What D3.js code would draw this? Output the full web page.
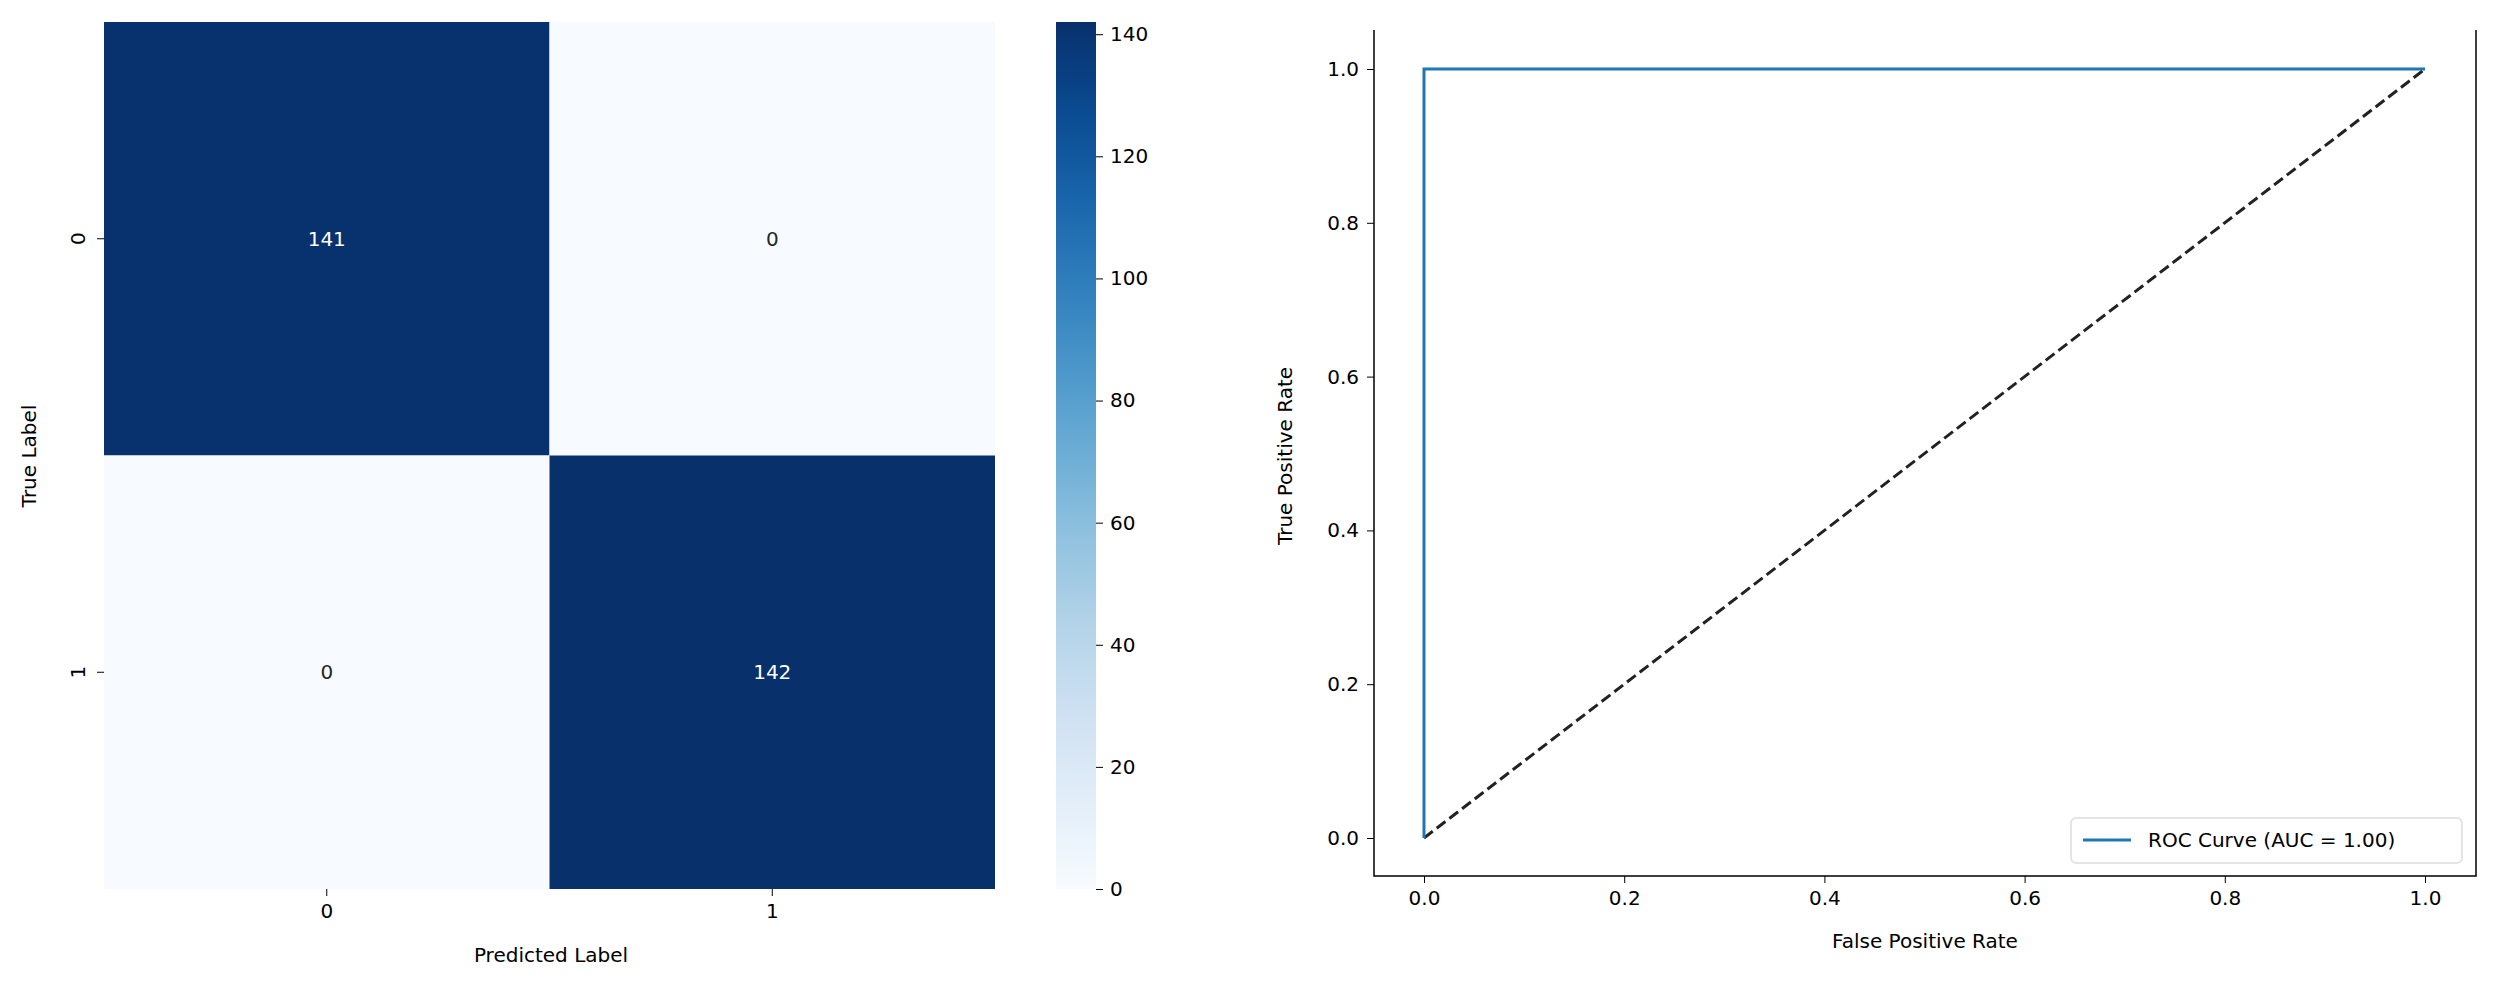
<!DOCTYPE html>
<html>
<head>
<style>
  body { margin: 0; background: #fff; }
  text { font-family: "DejaVu Sans", sans-serif; }
</style>
</head>
<body>
<div id="chart"></div>
<script src="https://cdn.jsdelivr.net/npm/d3@7"></script>
<script>
var classes = ["0", "1"];
var matrix = [[141, 0], [0, 142]];
var cbTicks = [0, 20, 40, 60, 80, 100, 120, 140];
var rocFpr = [0, 0, 1];
var rocTpr = [0, 1, 1];
var diag = [[0, 0], [1, 1]];
var rocTicks = [0, 0.2, 0.4, 0.6, 0.8, 1.0];

var W = 2503, H = 982, fs = 20;
var svg = d3.select("#chart").append("svg").attr("width", W).attr("height", H);

// ---- confusion matrix
var hx = d3.scaleBand().domain(classes).range([104, 995]);
var hy = d3.scaleBand().domain(classes).range([22, 889]);
var vmax = d3.max(matrix, function (r) { return d3.max(r); });
var color = d3.scaleSequential(d3.interpolateBlues).domain([0, vmax]);

var cells = [];
matrix.forEach(function (row, i) {
    row.forEach(function (v, j) { cells.push({r: classes[i], c: classes[j], v: v}); });
});

svg.selectAll("rect.cell").data(cells).enter().append("rect")
    .attr("class", "cell")
    .attr("x", function (d) { return hx(d.c); })
    .attr("y", function (d) { return hy(d.r); })
    .attr("width", hx.bandwidth())
    .attr("height", hy.bandwidth())
    .attr("fill", function (d) { return color(d.v); });

svg.selectAll("text.val").data(cells).enter().append("text")
    .attr("x", function (d) { return hx(d.c) + hx.bandwidth() / 2; })
    .attr("y", function (d) { return hy(d.r) + hy.bandwidth() / 2; })
    .attr("text-anchor", "middle").attr("dominant-baseline", "central")
    .attr("font-size", fs)
    .attr("fill", function (d) { return d.v > vmax / 2 ? "#fff" : "#262626"; })
    .text(function (d) { return d.v; });

var hxAxis = svg.append("g").attr("transform", "translate(0,889)")
    .call(d3.axisBottom(hx).tickSize(7).tickPadding(8));
hxAxis.select(".domain").remove();
hxAxis.selectAll("text").attr("font-size", fs);

var hyAxis = svg.append("g").attr("transform", "translate(104,0)")
    .call(d3.axisLeft(hy).tickSize(7).tickPadding(8));
hyAxis.select(".domain").remove();
hyAxis.selectAll("text").attr("font-size", fs)
    .attr("text-anchor", "middle").attr("x", -26).attr("dy", "0.35em")
    .attr("transform", "rotate(-90,-26,0)");

svg.append("text").attr("x", 551).attr("y", 962).attr("text-anchor", "middle")
    .attr("font-size", fs).text("Predicted Label");
svg.append("text").attr("transform", "translate(36,456) rotate(-90)")
    .attr("text-anchor", "middle").attr("font-size", fs).text("True Label");

// colorbar
var cb = d3.scaleLinear().domain([0, vmax]).range([889, 22]);
var defs = svg.append("defs");
var grad = defs.append("linearGradient").attr("id", "cbg")
    .attr("x1", 0).attr("y1", 1).attr("x2", 0).attr("y2", 0);
d3.range(0, 1.01, 0.1).forEach(function (t) {
    grad.append("stop").attr("offset", t).attr("stop-color", d3.interpolateBlues(t));
});
svg.append("rect").attr("x", 1056).attr("y", 22).attr("width", 40).attr("height", 867)
    .attr("fill", "url(#cbg)");
var cbAxis = svg.append("g").attr("transform", "translate(1096,0)")
    .call(d3.axisRight(cb).tickValues(cbTicks).tickSize(7).tickPadding(7));
cbAxis.select(".domain").remove();
cbAxis.selectAll("text").attr("font-size", fs);

// ---- ROC
var rx = d3.scaleLinear().domain([0, 1]).range([1424, 2425]);
var ry = d3.scaleLinear().domain([0, 1]).range([838, 69]);
var L = 1374, R = 2476, T = 30, B = 876;

var rxAxis = svg.append("g").attr("transform", "translate(0," + B + ")")
    .call(d3.axisBottom(rx).tickValues(rocTicks).tickFormat(d3.format(".1f")).tickSize(7).tickPadding(8));
rxAxis.select(".domain").remove();
rxAxis.selectAll("text").attr("font-size", fs);
var ryAxis = svg.append("g").attr("transform", "translate(" + L + ",0)")
    .call(d3.axisLeft(ry).tickValues(rocTicks).tickFormat(d3.format(".1f")).tickSize(7).tickPadding(8));
ryAxis.select(".domain").remove();
ryAxis.selectAll("text").attr("font-size", fs);

svg.append("path").attr("d", "M" + L + "," + T + "V" + B + "H" + R + "V" + T)
    .attr("fill", "none").attr("stroke", "#000").attr("stroke-width", 1.5);

var line = d3.line().x(function (d) { return rx(d[0]); }).y(function (d) { return ry(d[1]); });
svg.append("path").datum(diag).attr("d", line).attr("fill", "none")
    .attr("stroke", "#222").attr("stroke-width", 3).attr("stroke-dasharray", "11,5");
svg.append("path").datum(rocFpr.map(function (f, i) { return [f, rocTpr[i]]; }))
    .attr("d", line).attr("fill", "none").attr("stroke", "#1f77b4").attr("stroke-width", 3);

svg.append("text").attr("x", 1925).attr("y", 948).attr("text-anchor", "middle")
    .attr("font-size", fs).text("False Positive Rate");
svg.append("text").attr("transform", "translate(1292,456) rotate(-90)")
    .attr("text-anchor", "middle").attr("font-size", fs).text("True Positive Rate");

// legend
svg.append("rect").attr("x", 2071).attr("y", 818).attr("width", 391).attr("height", 45)
    .attr("rx", 5).attr("fill", "#fff").attr("stroke", "#ddd").attr("stroke-width", 1.5);
svg.append("line").attr("x1", 2083).attr("x2", 2131).attr("y1", 840).attr("y2", 840)
    .attr("stroke", "#1f77b4").attr("stroke-width", 3);
svg.append("text").attr("x", 2148).attr("y", 840).attr("dominant-baseline", "central")
    .attr("font-size", fs).text("ROC Curve (AUC = 1.00)");
</script>
</body>
</html>
